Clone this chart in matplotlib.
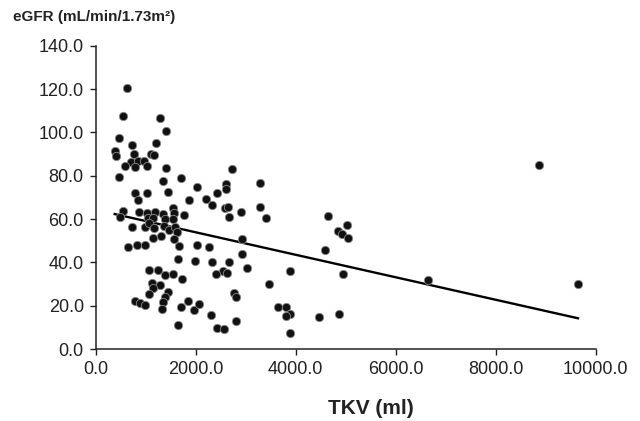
"""
TKV vs eGFR scatter with linear trend line.
"""

import numpy as np
import matplotlib
matplotlib.use("Agg")
import matplotlib.pyplot as plt
from matplotlib.ticker import FormatStrFormatter

OUTPUT_PATH = "out.png"

# total kidney volume (ml)
tkv = [626, 552, 1292, 1400, 460, 726, 1206, 380, 406, 760,
       1106, 1172, 712, 852, 972, 586, 780, 1032, 1400, 472,
       1346, 1706, 2026, 780, 1032, 1452, 840, 1866, 540, 480,
       860, 1032, 1180, 1352, 1546, 1572, 1766, 1052, 1152, 1386,
       1546, 732, 986, 1072, 1160, 1366, 1460, 1586, 1620, 1306,
       1140, 1572, 640, 832, 980, 1666, 2026, 1640, 1986, 1066,
       1252, 1386, 1552, 1720, 1132, 1280, 1140, 1066, 1440, 1386,
       1346, 786, 892, 992, 1332, 1700, 1840, 1976, 1652, 2066,
       2726, 2606, 2606, 2426, 3280, 2206, 2320, 2596, 2646, 2670,
       2900, 3290, 3410, 2936, 2930, 2266, 2326, 2670, 2552, 2406,
       2620, 3026, 3886, 3460, 2776, 2806, 2312, 3646, 3816, 3896,
       3806, 4466, 2436, 2572, 2810, 3886, 4652, 5020, 4852, 4920,
       5052, 4586, 4952, 4866, 6646, 8872, 9646]

# eGFR (mL/min/1.73m2)
egfr = [120.4, 107.8, 106.8, 100.7, 97.3, 94.2, 95.3, 91.6, 89.1, 90.1,
        90.1, 89.6, 86.5, 86.8, 87.0, 84.4, 84.1, 84.4, 83.5, 79.4,
        77.7, 79.1, 74.7, 72.1, 71.9, 72.5, 68.7, 68.7, 63.9, 61.1,
        63.3, 63.0, 63.1, 62.4, 65.0, 63.0, 62.0, 60.4, 60.4, 59.9,
        59.9, 56.2, 56.2, 58.3, 55.8, 56.7, 55.0, 56.5, 54.2, 52.3,
        51.1, 50.8, 47.0, 47.9, 47.9, 47.4, 48.0, 41.6, 40.8, 36.5,
        36.4, 34.2, 34.6, 32.5, 30.3, 29.7, 28.0, 25.4, 26.3, 23.9,
        21.8, 22.0, 21.2, 20.5, 18.6, 19.4, 22.2, 18.0, 11.2, 20.6,
        83.0, 76.1, 73.9, 71.9, 76.5, 69.4, 66.3, 64.9, 65.4, 61.0,
        63.1, 65.8, 60.4, 50.7, 43.8, 47.0, 40.0, 40.3, 35.8, 34.8,
        34.9, 37.3, 36.0, 30.0, 26.0, 24.2, 15.7, 19.5, 19.5, 16.2,
        15.2, 14.9, 9.9, 9.2, 12.8, 7.5, 61.6, 57.1, 54.6, 53.0,
        51.4, 45.6, 34.8, 16.4, 31.9, 85.0, 29.9]

# trend line as drawn on the chart
fit_intercept = 64.3
fit_slope = -0.005194

x_ticks = [0, 2000, 4000, 6000, 8000, 10000]
y_ticks = [0, 20, 40, 60, 80, 100, 120, 140]


def plot_scatter(output_path):
    plt.rcParams["font.family"] = ["Liberation Sans", "DejaVu Sans"]

    fig = plt.figure(figsize=(6.4, 4.21), dpi=100)
    ax = fig.add_axes([0.1495, 0.171, 0.7812, 0.72])

    x = np.array(tkv)
    y = np.array(egfr)
    ax.scatter(x, y, s=36, color="#111111", edgecolors="#8a8a8a",
               linewidths=0.6, zorder=3)

    xs = np.array([x.min(), x.max()])
    ax.plot(xs, fit_intercept + fit_slope * xs, color="black", lw=1.7, zorder=2)

    ax.set_xlim(0, 10000)
    ax.set_ylim(0, 140)
    ax.set_xticks(x_ticks)
    ax.set_yticks(y_ticks)
    ax.xaxis.set_major_formatter(FormatStrFormatter("%.1f"))
    ax.yaxis.set_major_formatter(FormatStrFormatter("%.1f"))
    ax.tick_params(direction="out", length=4.5, width=1, labelsize=13,
                   colors="#222222", pad=4)
    ax.spines[["top", "right"]].set_visible(False)
    for side in ["left", "bottom"]:
        ax.spines[side].set_linewidth(1.1)
        ax.spines[side].set_color("#222222")

    fig.text(13 / 640, 1 - 17 / 421, "eGFR (mL/min/1.73m²)", fontsize=11,
             fontweight="bold", ha="left", va="center", color="#222222")
    fig.text(371 / 640, 1 - 408 / 421, "TKV (ml)", fontsize=15,
             fontweight="bold", ha="center", va="center", color="#222222")

    fig.savefig(output_path, dpi=100)
    plt.close(fig)


def main():
    plot_scatter(OUTPUT_PATH)


if __name__ == "__main__":
    main()
